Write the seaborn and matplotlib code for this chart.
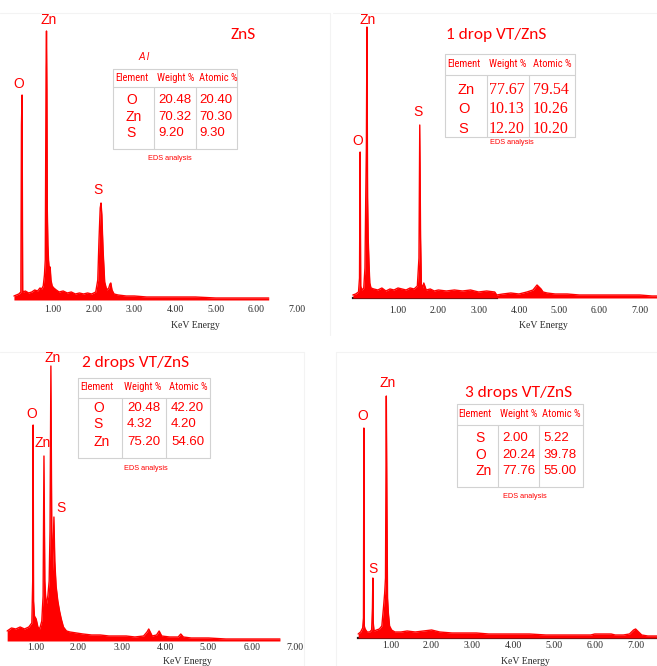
import numpy as np
import pandas as pd
import matplotlib
matplotlib.use("Agg")
import matplotlib.pyplot as plt
import seaborn as sns

sns.set_theme(style="white")
plt.rcParams["font.family"] = ["Liberation Sans", "DejaVu Sans"]

RED = "#ff0000"
W, H = 657, 666

# ---------------- EDS spectra (energy in keV, intensity in counts) ----------------
zns_energy = [0.04, 0.10, 0.16, 0.21, 0.225, 0.24, 0.255, 0.27, 0.32, 0.40, 0.48, 0.55, 0.62,
              0.68, 0.72, 0.76, 0.79, 0.81, 0.83, 0.84, 0.85, 0.86, 0.875, 0.89, 0.91, 0.93,
              0.95, 0.98, 1.02, 1.08, 1.15, 1.25, 1.35, 1.45, 1.55, 1.65, 1.75, 1.85, 1.95,
              2.05, 2.10, 2.13, 2.16, 2.18, 2.20, 2.23, 2.27, 2.32, 2.37, 2.40, 2.42, 2.45,
              2.50, 2.60, 2.80, 3.00, 3.30, 3.60, 4.00, 4.50, 5.00, 5.50, 6.00, 6.30]
zns_counts = [4, 5, 6, 8, 175, 205, 10, 8, 9, 7, 8, 10, 9,
              12, 11, 14, 25, 40, 232, 269, 210, 90, 55, 40, 30, 33,
              20, 14, 12, 10, 8, 9, 7, 8, 6, 7, 6, 7, 6,
              8, 20, 60, 92, 97, 85, 50, 18, 10, 12, 16, 17, 10,
              6, 5, 4, 4, 3, 3, 3, 3, 2, 2, 2, 2]

drop1_energy = [-0.12, -0.05, 0.02, 0.045, 0.06, 0.075, 0.10, 0.15, 0.18, 0.20, 0.215, 0.23,
                0.245, 0.26, 0.28, 0.30, 0.33, 0.40, 0.50, 0.60, 0.70, 0.80, 0.90, 1.00,
                1.10, 1.20, 1.30, 1.40, 1.48, 1.52, 1.54, 1.56, 1.58, 1.62, 1.64, 1.70,
                1.80, 1.90, 2.00, 2.20, 2.40, 2.60, 2.80, 3.00, 3.20, 3.40, 3.45, 3.60,
                3.80, 4.00, 4.20, 4.35, 4.45, 4.50, 4.55, 4.60, 4.70, 4.90, 5.20, 5.50,
                5.80, 6.10, 6.40, 6.70, 7.00, 7.30, 7.45]
drop1_counts = [3, 4, 6, 20, 146, 12, 8, 10, 30, 101, 150, 271,
                101, 60, 35, 15, 10, 9, 8, 10, 7, 9, 8, 10,
                9, 8, 10, 9, 12, 40, 173, 60, 14, 10, 15, 8,
                9, 7, 8, 7, 8, 7, 8, 6, 7, 6, 3, 4,
                5, 4, 6, 8, 13, 11, 9, 6, 5, 4, 4, 3,
                3, 3, 3, 3, 3, 2, 2]

drop2_energy = [0.35, 0.45, 0.55, 0.65, 0.75, 0.85, 0.92, 0.94, 0.95, 0.96, 0.98, 1.02, 1.06,
                1.10, 1.15, 1.18, 1.20, 1.22, 1.25, 1.29, 1.32, 1.34, 1.36, 1.38, 1.40, 1.43,
                1.45, 1.48, 1.52, 1.56, 1.60, 1.65, 1.72, 1.80, 1.95, 2.10, 2.30, 2.50, 2.70,
                2.90, 3.10, 3.30, 3.50, 3.58, 3.62, 3.70, 3.80, 3.86, 3.92, 4.10, 4.30, 4.36,
                4.42, 4.60, 5.00, 5.40, 5.80, 6.20, 6.65]
drop2_counts = [10, 13, 12, 14, 12, 14, 18, 60, 216, 40, 25, 22, 14,
                12, 20, 45, 185, 60, 35, 45, 60, 110, 275, 110, 70, 124,
                80, 55, 40, 30, 22, 14, 10, 9, 8, 7, 6, 6, 5,
                5, 5, 4, 5, 9, 12, 5, 6, 10, 5, 4, 4, 7,
                4, 3, 3, 2, 2, 2, 2]

drop3_energy = [0.20, 0.26, 0.31, 0.33, 0.34, 0.35, 0.37, 0.42, 0.48, 0.53, 0.55, 0.56, 0.57,
                0.59, 0.65, 0.72, 0.78, 0.82, 0.85, 0.87, 0.89, 0.905, 0.92, 0.94, 0.97,
                1.02, 1.10, 1.25, 1.40, 1.60, 1.80, 2.00, 2.20, 2.50, 2.80, 3.10, 3.40,
                3.70, 4.00, 4.40, 4.80, 5.20, 5.60, 5.90, 6.00, 6.20, 6.40, 6.50, 6.70,
                6.85, 6.95, 7.00, 7.05, 7.15, 7.30, 7.50, 7.60]
drop3_counts = [4, 6, 10, 20, 210, 12, 9, 6, 6, 8, 30, 60, 15,
                7, 8, 9, 12, 30, 45, 60, 242, 131, 40, 25, 12,
                8, 6, 6, 7, 6, 7, 8, 6, 5, 5, 5, 4,
                4, 4, 4, 3, 3, 3, 3, 4, 4, 4, 3, 3,
                4, 8, 9, 7, 3, 2, 2, 2]

# ---------------- composition tables ----------------
table_headers = ["Element", "Weight %", "Atomic %"]

zns_elements = ["O", "Zn", "S"]
zns_weight = ["20.48", "70.32", "9.20"]
zns_atomic = ["20.40", "70.30", "9.30"]

drop1_elements = ["Zn", "O", "S"]
drop1_weight = ["77.67", "10.13", "12.20"]
drop1_atomic = ["79.54", "10.26", "10.20"]

drop2_elements = ["O", "S", "Zn"]
drop2_weight = ["20.48", "4.32", "75.20"]
drop2_atomic = ["42.20", "4.20", "54.60"]

drop3_elements = ["S", "O", "Zn"]
drop3_weight = ["2.00", "20.24", "77.76"]
drop3_atomic = ["5.22", "39.78", "55.00"]

titles = ["ZnS", "1 drop VT/ZnS", "2 drops VT/ZnS", "3 drops VT/ZnS"]
zns_peaks = ["O", "Zn", "S"]
drop1_peaks = ["Zn", "O", "S"]
drop2_peaks = ["Zn", "O", "Zn", "S"]
drop3_peaks = ["Zn", "O", "S"]

tick_values = [1, 2, 3, 4, 5, 6, 7]
tick_labels = ["1.00", "2.00", "3.00", "4.00", "5.00", "6.00", "7.00"]
x_title = "KeV Energy"
table_caption = "EDS analysis"

fig = plt.figure(figsize=(W / 100, H / 100), dpi=100)
fig.patch.set_facecolor("white")

SERIF = ["Liberation Serif", "DejaVu Serif"]


def spectrum_panel(energy, counts, zero, ppk, base, xlo, xhi, pad, spine=None):
    """One EDS spectrum; 1 count on the y axis spans one pixel."""
    top = 290
    left = zero + xlo * ppk
    width = (xhi - xlo) * ppk
    ax = fig.add_axes([left / W, 1 - base / H, width / W, top / H])
    df = pd.DataFrame({"Energy": energy, "Counts": counts})
    sns.lineplot(data=df, x="Energy", y="Counts", ax=ax, color=RED, linewidth=1.0,
                 estimator=None, sort=False)
    ax.fill_between(df["Energy"], df["Counts"], 0, color=RED, linewidth=0)
    ax.set_xlim(xlo, xhi)
    ax.set_ylim(0, top)
    ax.set_facecolor("none")
    ax.set_xlabel("")
    ax.set_ylabel("")
    ax.set_yticks([])
    ax.set_xticks(tick_values)
    ax.set_xticklabels(tick_labels, fontfamily=SERIF, fontsize=7, color="#2a2a2a")
    ax.tick_params(axis="x", length=0, pad=pad)
    for s in ax.spines.values():
        s.set_visible(False)
    if spine is not None:
        sp = ax.spines["bottom"]
        sp.set_visible(True)
        sp.set_bounds(*spine)
        sp.set_color("#1a1a1a")
        sp.set_linewidth(1.6)
        sp.set_zorder(0)
    return ax


spectrum_panel(zns_energy, zns_counts, 12.3, 40.7, 300, 0.0, 7.5, 3.6)
spectrum_panel(drop1_energy, drop1_counts, 357.7, 40.3, 298, -0.15, 7.45, 5.5, spine=(-0.12, 3.45))
spectrum_panel(drop2_energy, drop2_counts, -8.0, 43.3, 641, 0.2, 7.2, 1.4)
spectrum_panel(drop3_energy, drop3_counts, 350.0, 40.8, 638, 0.15, 7.52, 2.2, spine=(0.2, 7.52))

# overlay in pixel coordinates for labels and tables
ov = fig.add_axes([0, 0, 1, 1])
ov.set_xlim(0, W)
ov.set_ylim(H, 0)
ov.axis("off")
ov.patch.set_alpha(0)

# faint frames of the four panels
FRAME = "#f3f3f3"
for xs, ys in [([0, 330, 330], [13, 13, 335]), ([333, 657], [13, 13]),
               ([0, 304, 304], [352, 352, 666]), ([336, 336, 657], [666, 352, 352])]:
    ov.plot(xs, ys, color=FRAME, lw=0.8)

# panel titles
title_pos = [(243, 35), (496, 35), (136, 363), (519, 393)]
for t, (x, y) in zip(titles, title_pos):
    ov.text(x, y, t, color=RED, fontsize=12.5, family=["Carlito", "DejaVu Sans"],
            ha="center", va="center")

# peak labels
peak_sets = [
    (zns_peaks, [(19, 84), (49, 20), (98, 190)]),
    (drop1_peaks, [(368, 20), (358, 141), (418, 112)]),
    (drop2_peaks, [(53, 358), (32, 414), (43, 443), (61, 508)]),
    (drop3_peaks, [(388, 383), (363, 416), (373, 569)]),
]
for names, positions in peak_sets:
    for n, (x, y) in zip(names, positions):
        ov.text(x, y, n, color=RED, fontsize=10, ha="center", va="center")

# energy axis titles
for x, y in [(195, 325), (543, 325), (187, 662), (525, 662)]:
    ov.text(x, y, x_title, color="#2a2a2a", fontsize=7, family=SERIF, ha="center", va="center")

LINE = "#d2d2d2"
NARROW = ["Roboto Condensed", "Liberation Sans", "DejaVu Sans"]


def table(box, hline, cols, head_y, head_xs, row_ys, elem_x, num_xs, cap,
          elements, weight, atomic, num_family=None, num_size=9.5, elem_size=10):
    x0, x1, y0, y1 = box
    ov.plot([x0, x1, x1, x0, x0], [y0, y0, y1, y1, y0], color=LINE, lw=0.8)
    ov.plot([x0, x1], [hline, hline], color=LINE, lw=0.8)
    for c in cols:
        ov.plot([c, c], [hline, y1], color=LINE, lw=0.8)
    for h, hx in zip(table_headers, head_xs):
        ov.text(hx, head_y, h, color=RED, fontsize=7.6, family=NARROW, ha="left", va="center")
    nf = num_family or ["Liberation Sans", "DejaVu Sans"]
    for e, w_, a, ry in zip(elements, weight, atomic, row_ys):
        ov.text(elem_x, ry, e, color=RED, fontsize=elem_size, ha="left", va="center")
        ov.text(num_xs[0], ry, w_, color=RED, fontsize=num_size, family=nf, ha="left", va="center")
        ov.text(num_xs[1], ry, a, color=RED, fontsize=num_size, family=nf, ha="left", va="center")
    ov.text(cap[0], cap[1], table_caption, color=RED, fontsize=5.3, ha="center", va="center")


table((113, 237, 69, 149), 87, [154, 196], 78, [115, 157, 199], [100, 117, 133], 126,
      [158, 199], (170, 159), zns_elements, zns_weight, zns_atomic)
ov.text(144, 57, "A l", color=RED, fontsize=7, style="italic", ha="center", va="center")

table((445, 575, 54, 137), 75, [487, 529], 64, [447, 489, 533], [90, 109, 129], 458,
      [489, 533], (512, 143), drop1_elements, drop1_weight, drop1_atomic,
      num_family=SERIF, num_size=11.5, elem_size=10.5)

table((78, 210, 378, 458), 398, [122, 166], 387, [80, 124, 169], [408, 424, 442], 93,
      [127, 171], (146, 468), drop2_elements, drop2_weight, drop2_atomic)

table((457, 583, 404, 487), 425, [498, 539], 414, [458, 500, 542], [438, 455, 471], 475,
      [502, 543], (525, 497), drop3_elements, drop3_weight, drop3_atomic)

fig.savefig("out.png", dpi=100, facecolor="white")
